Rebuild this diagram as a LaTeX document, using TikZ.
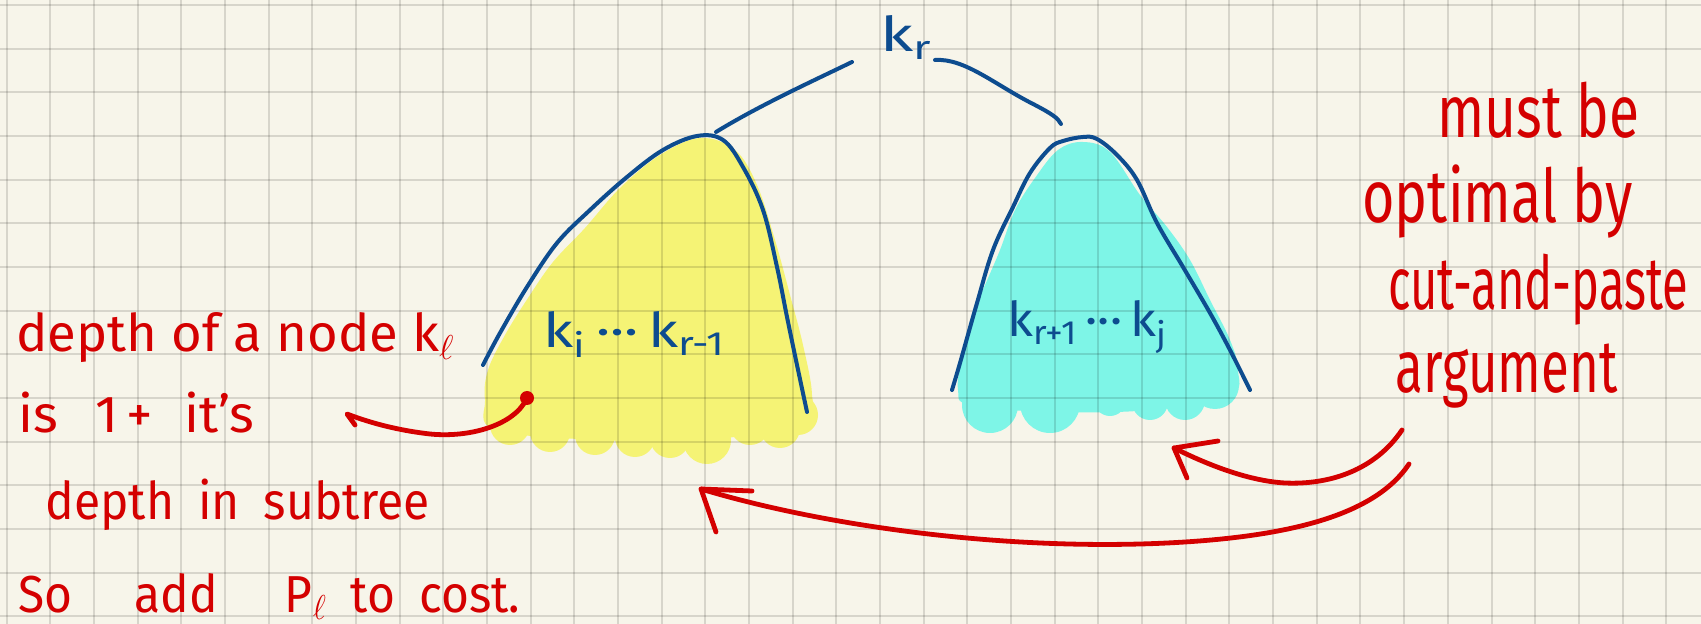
\documentclass[tikz,border=0pt]{standalone}
\usepackage{fontspec}
\setmainfont{Fira Sans}
\usepackage{graphicx}
\definecolor{paper}{HTML}{F7F5EA}
\definecolor{redink}{HTML}{D40000}
\definecolor{blueink}{HTML}{0D4C8F}
\definecolor{hlyellow}{HTML}{F5F375}
\definecolor{hlcyan}{HTML}{7EF5E7}
\newcommand{\hwfit}[2]{\resizebox{#1}{\height}{#2}}
\tikzset{
  gridline/.style={draw=black, opacity=0.13, line width=1pt},
  blueline/.style={draw=blueink, line width=2pt, line cap=round, line join=round},
  redline/.style={draw=redink, line width=2.4pt, line cap=round, line join=round},
  redtext/.style={text=redink, inner sep=0pt, anchor=base west, font=\fontsize{26}{30}\selectfont},
  redbig/.style={text=redink, inner sep=0pt, anchor=base west, font=\fontsize{37}{42}\selectfont},
  bluetext/.style={text=blueink, inner sep=0pt, anchor=base west, font=\fontsize{24}{28}\selectfont},
}
\begin{document}
\begin{tikzpicture}[x=0.5pt,y=-0.5pt]
\useasboundingbox (0,0) rectangle (1701,624);
\fill[paper] (0,0) rectangle (1701,624);

% highlighter fills
\fill[hlyellow] plot[smooth cycle, tension=0.6] coordinates {(700,138) (735,150) (757,185) (775,240) (790,295) (803,345) (812,395) (805,425) (700,440) (600,440) (495,430) (485,400) (488,370) (505,335) (528,298) (553,262) (585,228) (620,188) (660,155)};
\foreach \cx/\cy/\r in {510/425/20, 550/432/20, 595/435/20, 635/437/20, 670/438/20, 707/440/24, 750/425/20, 780/428/20, 798/415/20}
  \fill[hlyellow] (\cx,\cy) circle[radius=\r];
\fill[hlcyan] plot[smooth cycle, tension=0.6] coordinates {(1083,142) (1110,152) (1140,195) (1167,227) (1190,260) (1210,300) (1230,340) (1238,370) (1230,395) (1150,410) (1050,412) (970,405) (958,390) (962,355) (972,315) (985,285) (1000,250) (1015,210) (1035,178) (1058,150)};
\foreach \cx/\cy/\r in {990/405/28, 1050/403/30, 1110/400/16, 1150/402/18, 1185/400/20, 1215/385/24}
  \fill[hlcyan] (\cx,\cy) circle[radius=\r];

% grid
\foreach \i in {0,...,38} \draw[gridline] ({6.7+43.67*\i},0) -- ({6.7+43.67*\i},624);
\foreach \j in {0,...,14} \draw[gridline] (0,{5+43.67*\j}) -- (1701,{5+43.67*\j});

% root and branches
\node[bluetext] (kr) at (880,52) {\hwfit{26pt}{k\textsubscript{r}}};
\coordinate (krL) at (852,62);
\coordinate (krR) at (935,60);
\coordinate (topY) at (716,132);
\coordinate (topC) at (1061,124);
\draw[blueline] (krL) .. controls (815,80) and (760,105) .. (topY);
\draw[blueline] (krR) .. controls (965,58) and (995,85) .. (1035,105) .. controls (1052,114) and (1058,118) .. (topC);

% subtree outlines
\draw[blueline] plot[smooth, tension=0.6] coordinates {(483,365) (500,333) (527,287) (557,243) (590,210) (627,177) (663,150) (697,136) (723,140) (743,167) (763,210) (777,267) (787,317) (797,365) (807,412)};
\draw[blueline] plot[smooth, tension=0.6] coordinates {(952,390) (960,363) (977,303) (993,250) (1013,207) (1030,173) (1050,148) (1063,141) (1083,137) (1097,139) (1117,155) (1137,180) (1157,223) (1183,267) (1210,313) (1230,350) (1250,390)};

% subtree labels
\node[bluetext] (lk) at (543,348) {\hwfit{91pt}{k\textsubscript{i}\,···\,k\textsubscript{r-1}}};
\node[bluetext] (rk) at (1007,337) {\hwfit{80pt}{k\textsubscript{r+1}\,···\,k\textsubscript{j}}};

% left note
\node[redtext] (n1) at (16,352) {\hwfit{219pt}{depth of a node k\textsubscript{$\ell$}}};
\node[redtext] (n2) at (18,433) {\hwfit{118pt}{is\hspace{0.7em}1\,+\hspace{0.6em}it's}};
\node[redtext] (n3) at (45,520) {\hwfit{192pt}{depth\hspace{0.5em}in\hspace{0.5em}subtree}};
\node[redtext] (n4) at (18,612) {\hwfit{251pt}{So\hspace{1.3em}add\hspace{1.4em}P\textsubscript{$\ell$}\hspace{0.5em}to\hspace{0.5em}cost.}};

% dot and pointer
\node[circle, fill=redink, inner sep=0pt, minimum size=7pt] (dot) at (527,398) {};
\coordinate (ptr) at (347,414);
\draw[redline] (dot.center) .. controls (515,425) and (470,438) .. (430,434) .. controls (395,430) and (368,422) .. (ptr) -- (355,425);

% right note
\node[redbig] (m1) at (1437,138) {\hwfit{101pt}{must be}};
\node[redbig] (m2) at (1362,223) {\hwfit{135pt}{optimal by}};
\node[redbig] (m3) at (1388,310) {\hwfit{150pt}{cut-and-paste}};
\node[redbig] (m4) at (1395,393) {\hwfit{111pt}{argument}};

% arrows from the right note
\coordinate (a1s) at (1402,430);
\coordinate (a1t) at (1174,448);
\draw[redline] (a1s) .. controls (1375,470) and (1330,485) .. (1285,483) .. controls (1250,481) and (1210,466) .. (a1t);
\draw[redline] (1218,441) -- (a1t) -- (1187,478);

\coordinate (a2s) at (1409,464);
\coordinate (a2m) at (1167,543);
\coordinate (a2t) at (701,489);
\draw[redline] (a2s) .. controls (1375,515) and (1290,537) .. (a2m) .. controls (1000,551) and (820,525) .. (a2t);
\draw[redline] (752,491) -- (a2t) -- (716,532);
\end{tikzpicture}
\end{document}
